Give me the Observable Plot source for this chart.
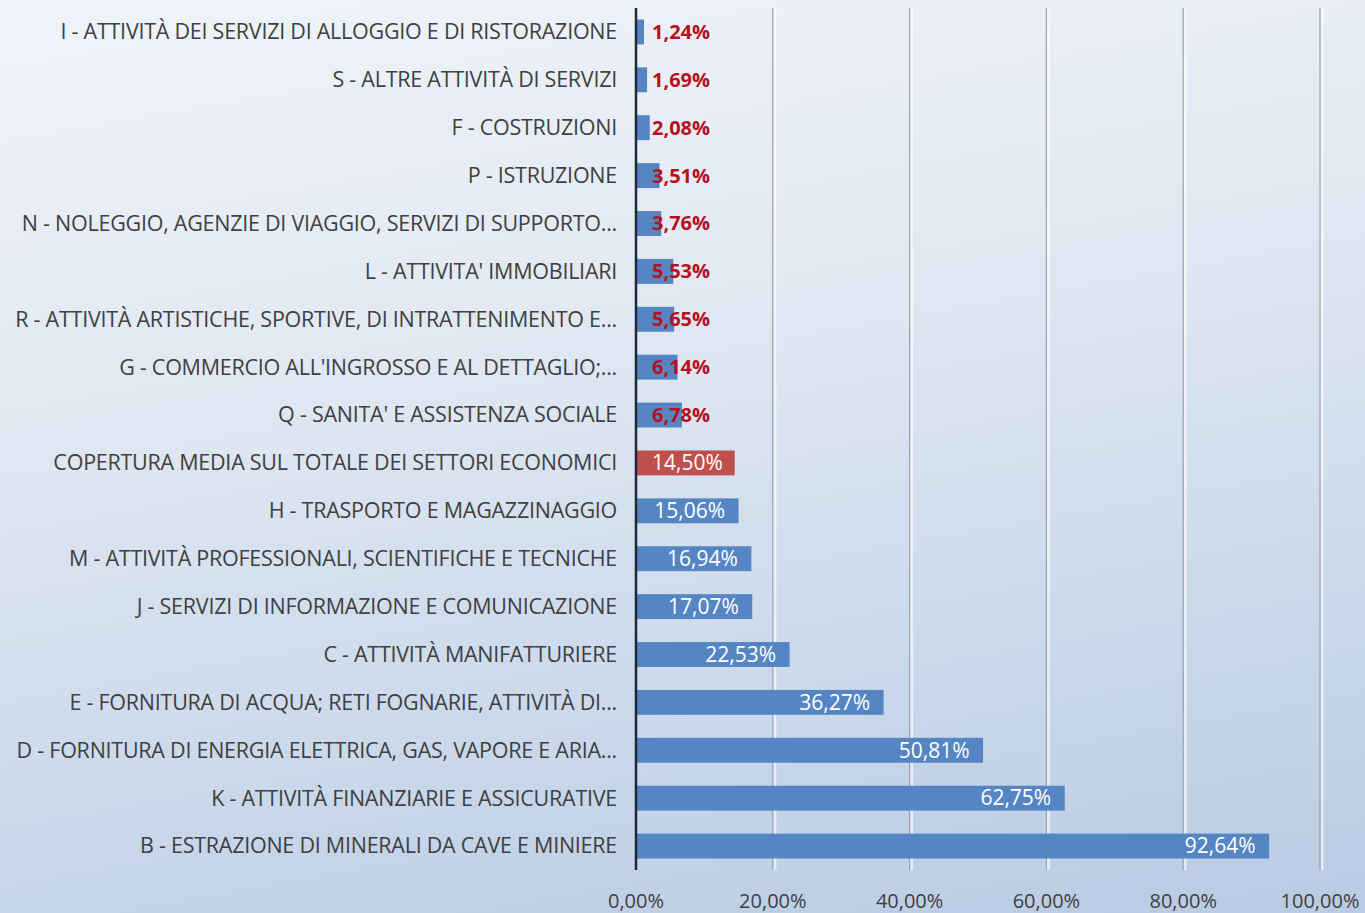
<!DOCTYPE html>
<html>
<head>
<meta charset="utf-8">
<script src="https://cdn.jsdelivr.net/npm/d3@7"></script>
<script src="https://cdn.jsdelivr.net/npm/@observablehq/plot@0.6"></script>
<style>
  html, body { margin: 0; padding: 0; }
  body {
    width: 1365px; height: 913px; overflow: hidden;
    background: linear-gradient(170deg, #f0f4fa 0%, #e2e9f3 35%, #cbd9eb 70%, #b8cbe3 100%);
  }
  svg { display: block; background: transparent !important; }
</style>
</head>
<body>
<div id="chart"></div>
<script>
const categories = [
  "I - ATTIVITÀ DEI SERVIZI DI ALLOGGIO E DI RISTORAZIONE",
  "S - ALTRE ATTIVITÀ DI SERVIZI",
  "F - COSTRUZIONI",
  "P - ISTRUZIONE",
  "N - NOLEGGIO, AGENZIE DI VIAGGIO, SERVIZI DI SUPPORTO...",
  "L - ATTIVITA' IMMOBILIARI",
  "R - ATTIVITÀ ARTISTICHE, SPORTIVE, DI INTRATTENIMENTO E...",
  "G - COMMERCIO ALL'INGROSSO E AL DETTAGLIO;...",
  "Q - SANITA' E ASSISTENZA SOCIALE",
  "COPERTURA MEDIA SUL TOTALE DEI SETTORI ECONOMICI",
  "H - TRASPORTO E MAGAZZINAGGIO",
  "M - ATTIVITÀ PROFESSIONALI, SCIENTIFICHE E TECNICHE",
  "J - SERVIZI DI INFORMAZIONE E COMUNICAZIONE",
  "C - ATTIVITÀ MANIFATTURIERE",
  "E - FORNITURA DI ACQUA; RETI FOGNARIE, ATTIVITÀ DI...",
  "D - FORNITURA DI ENERGIA ELETTRICA, GAS, VAPORE E ARIA...",
  "K - ATTIVITÀ FINANZIARIE E ASSICURATIVE",
  "B - ESTRAZIONE DI MINERALI DA CAVE E MINIERE"
];
const values = [1.24, 1.69, 2.08, 3.51, 3.76, 5.53, 5.65, 6.14, 6.78, 14.50, 15.06, 16.94, 17.07, 22.53, 36.27, 50.81, 62.75, 92.64];
const highlight = "COPERTURA MEDIA SUL TOTALE DEI SETTORI ECONOMICI";
const xTicks = [0, 20, 40, 60, 80, 100];

const data = categories.map((c, i) => ({category: c, value: values[i]}));
const fmt = v => v.toFixed(2).replace(".", ",") + "%";
const small = data.filter(d => d.value < 10);
const mid = data.filter(d => d.value >= 10 && d.value < 15);
const large = data.filter(d => d.value >= 15);

const font = "'Open Sans', sans-serif";

const chart = Plot.plot({
  width: 1365,
  height: 913,
  marginLeft: 635.5,
  marginRight: 45.5,
  marginTop: 8,
  marginBottom: 43,
  style: {background: "transparent", fontFamily: font, fontSize: "21px", color: "#404040"},
  x: {domain: [0, 100], ticks: xTicks, label: null},
  y: {domain: categories, paddingInner: 0.48, paddingOuter: 0.24, round: false, label: null},
  marks: [
    Plot.ruleX(xTicks.slice(1), {stroke: "#ffffff", strokeWidth: 3, strokeOpacity: 0.6, dx: 2}),
    Plot.ruleX(xTicks.slice(1), {stroke: "#98a2ae", strokeWidth: 1.2}),
    Plot.barX(data, {
      y: "category", x: "value",
      fill: d => d.category === highlight ? "#c0504d" : "#5585c2"
    }),
    Plot.ruleX([0], {stroke: "#1e2838", strokeWidth: 2.5}),
    Plot.text(small, {
      y: "category", x: 0, text: d => fmt(d.value),
      textAnchor: "start", dx: 16, fill: "#b8101c", fontWeight: "bold", fontSize: 20
    }),
    Plot.text(mid, {
      y: "category", x: 0, text: d => fmt(d.value),
      textAnchor: "start", dx: 16, fill: "#ffffff", fontSize: 21
    }),
    Plot.text(large, {
      y: "category", x: "value", text: d => fmt(d.value),
      textAnchor: "end", dx: -14, fill: "#ffffff", fontSize: 21
    }),
    Plot.axisX({ticks: xTicks, tickFormat: fmt, tickSize: 0, tickPadding: 23, fontSize: 20, fill: "#404040", label: null}),
    Plot.axisY({tickSize: 0, tickPadding: 19, fontSize: 21.5, fill: "#404040", label: null})
  ]
});

d3.select(chart).selectAll('g[aria-label="y-axis tick label"] text')
  .style("letter-spacing", "-0.25px");

document.getElementById("chart").appendChild(chart);
</script>
</body>
</html>
